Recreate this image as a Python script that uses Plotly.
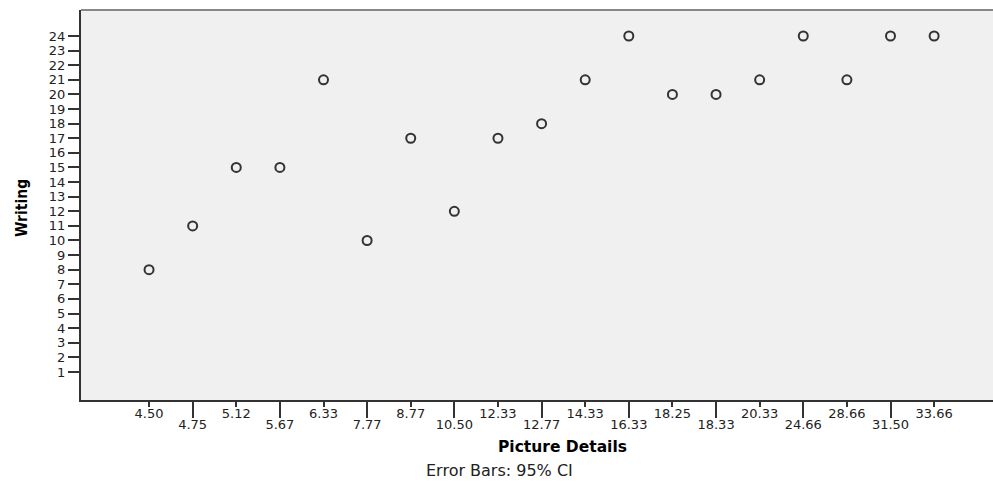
import plotly.graph_objects as go

categories = ["4.50", "4.75", "5.12", "5.67", "6.33", "7.77", "8.77", "10.50", "12.33",
              "12.77", "14.33", "16.33", "18.25", "18.33", "20.33", "24.66", "28.66",
              "31.50", "33.66"]
writing = [8, 11, 15, 15, 21, 10, 17, 12, 17, 18, 21, 24, 20, 20, 21, 24, 21, 24, 24]
y_ticks = list(range(1, 25))

idx = list(range(len(categories)))
even = idx[0::2]
odd = idx[1::2]

W, H = 993, 487
L, R, T, B = 81, 0, 10, 87
pw = W - L - R
ph = H - T - B

dark = "#333333"
tickfont = dict(family="DejaVu Sans, Verdana, sans-serif", size=13, color="#222222")

fig = go.Figure()
fig.add_trace(go.Scatter(
    x=idx, y=writing, mode="markers",
    marker=dict(symbol="circle-open", size=9, color=dark, line=dict(width=2, color=dark)),
    showlegend=False, hoverinfo="x+y"))
fig.add_trace(go.Scatter(x=[idx[0]], y=[None], xaxis="x2", mode="markers",
                         showlegend=False, hoverinfo="skip"))

xr = [-1.56, 19.35]
fig.update_layout(
    width=W, height=H,
    margin=dict(l=L, r=R, t=T, b=B),
    paper_bgcolor="white", plot_bgcolor="#F0F0F0",
    xaxis=dict(range=xr, tickmode="array", tickvals=even,
               ticktext=[categories[i] for i in even],
               ticks="outside", ticklen=5, tickwidth=2, tickcolor=dark,
               ticklabelstandoff=-5,
               showline=True, linecolor=dark, linewidth=2,
               showgrid=False, zeroline=False, tickfont=tickfont, fixedrange=True),
    xaxis2=dict(range=xr, overlaying="x", side="bottom", anchor="y",
                tickmode="array", tickvals=odd,
                ticktext=[categories[i] for i in odd],
                ticks="outside", ticklen=17, tickwidth=2, tickcolor=dark,
                ticklabelstandoff=-5,
                showline=False, showgrid=False, zeroline=False, tickfont=tickfont),
    yaxis=dict(range=[-0.92, 25.78], tickmode="array", tickvals=y_ticks,
               ticktext=[str(v) for v in y_ticks],
               ticks="outside", ticklen=11, tickwidth=1.5, tickcolor=dark,
               showline=True, linecolor=dark, linewidth=2,
               showgrid=False, zeroline=False, tickfont=tickfont),
    shapes=[dict(type="line", xref="paper", yref="paper", x0=0, x1=1, y0=1, y1=1,
                 line=dict(color="#888888", width=2))],
    annotations=[
        dict(text="<b>Picture Details</b>", xref="paper", yref="paper",
             x=(562 - L) / pw, y=(ph - (447 - T)) / ph, xanchor="center", yanchor="middle",
             showarrow=False, font=dict(family="DejaVu Sans, Verdana, sans-serif", size=15.5, color="black")),
        dict(text="Error Bars: 95% CI", xref="paper", yref="paper",
             x=(499 - L) / pw, y=(ph - (470 - T)) / ph, xanchor="center", yanchor="middle",
             showarrow=False, font=dict(family="DejaVu Sans, Verdana, sans-serif", size=16, color="#222222")),
        dict(text="<b>Writing</b>", xref="paper", yref="paper",
             x=(22 - L) / pw, y=(ph - (208 - T)) / ph, xanchor="center", yanchor="middle", textangle=-90,
             showarrow=False, font=dict(family="DejaVu Sans Condensed, Liberation Sans Narrow, Liberation Sans, sans-serif", size=15.5, color="black")),
    ],
)

fig.write_html("out.html", config={"displayModeBar": False},
               post_script="document.body.style.margin='0px';document.body.style.overflow='hidden';")
